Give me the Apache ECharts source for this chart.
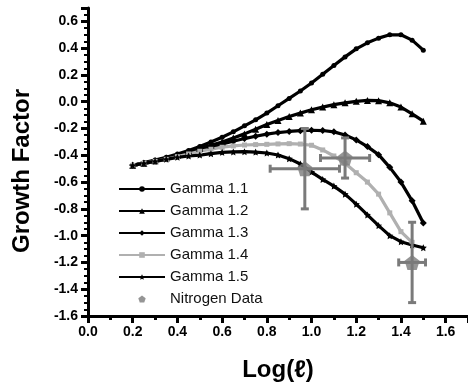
<!DOCTYPE html>
<html>
<head>
<meta charset="utf-8">
<script src="https://cdn.jsdelivr.net/npm/echarts@6/dist/echarts.min.js"></script>
<style>
html,body{margin:0;padding:0;background:#fff;}
#c{width:468px;height:387px;}
</style>
</head>
<body>
<div id="c"></div>
<script>
// ---- data ----
const xValues = [0.20,0.25,0.30,0.35,0.40,0.45,0.50,0.55,0.60,0.65,0.70,0.75,0.80,0.85,0.90,0.95,1.00,1.05,1.10,1.15,1.20,1.25,1.30,1.35,1.40,1.45,1.50];
const gamma11 = [-0.475,-0.455,-0.435,-0.415,-0.39,-0.365,-0.335,-0.30,-0.265,-0.225,-0.18,-0.135,-0.085,-0.03,0.025,0.08,0.14,0.205,0.27,0.335,0.395,0.44,0.475,0.50,0.50,0.46,0.385];
const gamma12 = [-0.475,-0.46,-0.44,-0.42,-0.40,-0.375,-0.35,-0.325,-0.30,-0.27,-0.24,-0.205,-0.17,-0.14,-0.11,-0.085,-0.06,-0.04,-0.022,-0.008,0.003,0.01,0.008,-0.008,-0.04,-0.09,-0.145];
const gamma13 = [-0.475,-0.46,-0.445,-0.425,-0.405,-0.385,-0.36,-0.34,-0.315,-0.295,-0.275,-0.258,-0.242,-0.23,-0.222,-0.216,-0.213,-0.215,-0.225,-0.248,-0.285,-0.335,-0.395,-0.49,-0.60,-0.74,-0.905];
const gamma14 = [-0.475,-0.46,-0.445,-0.43,-0.41,-0.39,-0.37,-0.355,-0.34,-0.33,-0.323,-0.32,-0.318,-0.315,-0.313,-0.316,-0.325,-0.36,-0.405,-0.46,-0.53,-0.60,-0.69,-0.83,-0.97,-1.05];
const gamma15 = [-0.475,-0.46,-0.445,-0.43,-0.415,-0.405,-0.398,-0.388,-0.378,-0.375,-0.373,-0.376,-0.383,-0.398,-0.425,-0.465,-0.525,-0.58,-0.63,-0.69,-0.765,-0.845,-0.925,-1.0,-1.045,-1.07,-1.09];
const nitrogenX = [0.97, 1.15, 1.45];
const nitrogenY = [-0.50, -0.42, -1.20];
const nitrogenXErr = [0.155, 0.11, 0.06];
const nitrogenYErr = [0.30, 0.15, 0.30];
const seriesNames = ['Gamma 1.1','Gamma 1.2','Gamma 1.3','Gamma 1.4','Gamma 1.5','Nitrogen Data'];
const xTickLabels = ['0.0','0.2','0.4','0.6','0.8','1.0','1.2','1.4','1.6'];
const yTickLabels = ['-1.6','-1.4','-1.2','-1.0','-0.8','-0.6','-0.4','-0.2','0.0','0.2','0.4','0.6'];

// ---- build ----
const pair = ys => ys.map((y,i) => [xValues[i], y]);
const FONT = '"Liberation Sans", Arial, sans-serif';
const STAR = 'path://M0,-10 L2.9,-4 9.5,-3.1 4.7,1.5 5.9,8.1 0,5 -5.9,8.1 -4.7,1.5 -9.5,-3.1 -2.9,-4 Z';
const PENT = 'path://M0,-10 L9.5,-3.1 5.9,8.1 -5.9,8.1 -9.5,-3.1 Z';
const GRAY = '#7a7a7a';

function lineSeries(name, ys, symbol, size, color) {
  return {
    name, type: 'line', data: pair(ys), symbol, symbolSize: size,
    showAllSymbol: true, smooth: false,
    lineStyle: {color, width: 3.2}, itemStyle: {color},
    emphasis: {disabled: true}, z: 3
  };
}

const errData = nitrogenX.map((x,i) => [x, nitrogenY[i], nitrogenXErr[i], nitrogenYErr[i]]);

const option = {
  animation: false,
  backgroundColor: '#fff',
  grid: {left: 88, top: 8, bottom: 68, width: 382, containLabel: false},
  legend: {
    orient: 'vertical', left: 113, top: 176,
    data: seriesNames,
    itemWidth: 46, itemHeight: 7, itemGap: 6,
    textStyle: {fontFamily: FONT, fontSize: 15, color: '#111', lineHeight: 16}
  },
  xAxis: {
    type: 'value', min: 0, max: 1.7, interval: 0.2,
    name: 'Log(ℓ)', nameLocation: 'middle', nameGap: 42,
    nameTextStyle: {fontFamily: FONT, fontSize: 24, fontWeight: 'bold', color: '#000'},
    axisLine: {show: true, onZero: false, lineStyle: {color: '#000', width: 3}},
    axisTick: {show: true, length: 7, lineStyle: {color: '#000', width: 3}},
    minorTick: {show: true, splitNumber: 2, length: 4, lineStyle: {color: '#000', width: 3}},
    axisLabel: {fontFamily: FONT, fontSize: 14, fontWeight: 'bold', color: '#000', margin: 9,
      showMaxLabel: false,
      formatter: v => { const s = v.toFixed(1); return xTickLabels.indexOf(s) >= 0 ? s : ''; }},
    splitLine: {show: false}
  },
  yAxis: {
    type: 'value', min: -1.6, max: 0.7, interval: 0.2,
    name: 'Growth Factor', nameLocation: 'middle', nameGap: 54, nameRotate: 90,
    nameTextStyle: {fontFamily: FONT, fontSize: 24, fontWeight: 'bold', color: '#000', padding: [0, 18, 0, 0]},
    axisLine: {show: true, onZero: false, lineStyle: {color: '#000', width: 3}},
    axisTick: {show: true, length: 7, lineStyle: {color: '#000', width: 3}},
    minorTick: {show: true, splitNumber: 4, length: 4, lineStyle: {color: '#000', width: 2}},
    axisLabel: {fontFamily: FONT, fontSize: 14, fontWeight: 'bold', color: '#000', margin: 10,
      showMaxLabel: false,
      formatter: v => { const s = (Math.abs(v) < 1e-9 ? 0 : v).toFixed(1); return yTickLabels.indexOf(s) >= 0 ? s : ''; }},
    splitLine: {show: false}
  },
  series: [
    lineSeries('Gamma 1.1', gamma11, 'circle', 5, '#000'),
    lineSeries('Gamma 1.2', gamma12, 'triangle', 7, '#000'),
    lineSeries('Gamma 1.3', gamma13, 'diamond', 7, '#000'),
    lineSeries('Gamma 1.4', gamma14, 'rect', 5, '#b0b0b0'),
    lineSeries('Gamma 1.5', gamma15, STAR, 7, '#000'),
    {
      name: 'Nitrogen Data', type: 'scatter', symbol: PENT, symbolSize: 15,
      data: nitrogenX.map((x,i) => [x, nitrogenY[i]]),
      itemStyle: {color: GRAY}, z: 6, emphasis: {disabled: true}
    },
    {
      name: 'errbars', type: 'custom', z: 5, silent: true,
      data: errData,
      renderItem: function (params, api) {
        const x = api.value(0), y = api.value(1), ex = api.value(2), ey = api.value(3);
        const top = api.coord([x, y + ey]), bot = api.coord([x, y - ey]);
        const lft = api.coord([x - ex, y]), rgt = api.coord([x + ex, y]);
        const cap = 4;
        const st = {stroke: GRAY, lineWidth: 3};
        const L = (x1,y1,x2,y2) => ({type: 'line', shape: {x1,y1,x2,y2}, style: st});
        return {type: 'group', children: [
          L(top[0], top[1], bot[0], bot[1]),
          L(lft[0], lft[1], rgt[0], rgt[1]),
          L(top[0]-cap, top[1], top[0]+cap, top[1]),
          L(bot[0]-cap, bot[1], bot[0]+cap, bot[1]),
          L(lft[0], lft[1]-cap, lft[0], lft[1]+cap),
          L(rgt[0], rgt[1]-cap, rgt[0], rgt[1]+cap)
        ]};
      }
    }
  ]
};
const chart = echarts.init(document.getElementById('c'), null, {renderer: 'canvas'});
chart.setOption(option);
</script>
</body>
</html>
